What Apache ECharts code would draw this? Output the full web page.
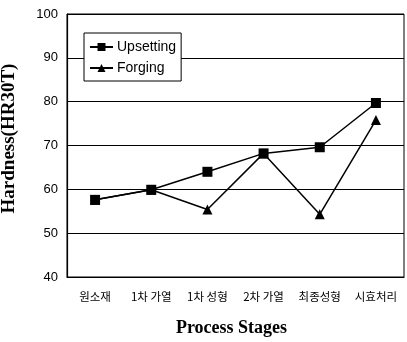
<!DOCTYPE html>
<html><head><meta charset="utf-8">
<script src="https://cdn.jsdelivr.net/npm/echarts@6/dist/echarts.min.js"></script>
<style>html,body{margin:0;padding:0;background:#fff}#c{width:407px;height:342px}</style>
</head><body><div id="c"></div>
<script>
const categories = ['원소재', '1차 가열', '1차 성형', '2차 가열', '최종성형', '시효처리'];
const upsetting = [57.6, 59.9, 64.0, 68.2, 69.6, 79.7];
const forging = [57.6, 59.9, 55.4, 68.2, 54.3, 75.8];
const yTicks = { min: 40, max: 100, interval: 10 };

const chart = echarts.init(document.getElementById('c'));
chart.setOption({
  animation: false,
  backgroundColor: '#fff',
  grid: { left: 67, right: 3, top: 14, bottom: 65, containLabel: false, outerBoundsMode: 'none',
    show: true, borderColor: '#000', borderWidth: 1 },
  legend: {
    left: 84, top: 33, orient: 'vertical', itemGap: 7, itemWidth: 23, itemHeight: 10,
    padding: [7, 5, 6, 5],
    borderColor: '#000', borderWidth: 1, backgroundColor: '#fff',
    textStyle: { fontFamily: 'Arial, Liberation Sans, sans-serif', fontSize: 14, color: '#000', padding: [0, 0, 0, -1] },
    data: ['Upsetting', 'Forging']
  },
  xAxis: {
    type: 'category', data: categories, boundaryGap: true,
    name: 'Process Stages', nameLocation: 'middle', nameGap: 42,
    nameTextStyle: { fontFamily: 'Times New Roman, Liberation Serif, serif', fontWeight: 'bold', fontSize: 18, color: '#000', padding: [0, 8, 0, 0] },
    axisLine: { lineStyle: { color: '#000', width: 1.2 } },
    axisTick: { inside: true, length: 3, lineStyle: { color: '#000' } },
    axisLabel: { interval: 0, color: '#000', fontSize: 11.5, margin: 14, fontFamily: 'Noto Sans CJK KR, sans-serif' }
  },
  yAxis: {
    type: 'value', min: yTicks.min, max: yTicks.max, interval: yTicks.interval,
    name: 'Hardness(HR30T)', nameLocation: 'middle', nameGap: 48, nameRotate: 90,
    nameTextStyle: { fontFamily: 'Times New Roman, Liberation Serif, serif', fontWeight: 'bold', fontSize: 19, color: '#000', padding: [0, 0, 0, 14] },
    axisLine: { show: true, lineStyle: { color: '#000', width: 1.2 } },
    axisTick: { show: false },
    axisLabel: { color: '#000', fontSize: 13, margin: 9, fontFamily: 'Arial, Liberation Sans, sans-serif' },
    splitLine: { lineStyle: { color: '#000', width: 1 } }
  },
  series: [
    { name: 'Upsetting', type: 'line', data: upsetting, symbol: 'rect', symbolSize: 10,
      lineStyle: { color: '#000', width: 1.5 }, itemStyle: { color: '#000' }, z: 3 },
    { name: 'Forging', type: 'line', data: forging, symbol: 'triangle', symbolSize: 10,
      lineStyle: { color: '#000', width: 1.5 }, itemStyle: { color: '#000' }, z: 2 }
  ]
});
</script></body></html>
